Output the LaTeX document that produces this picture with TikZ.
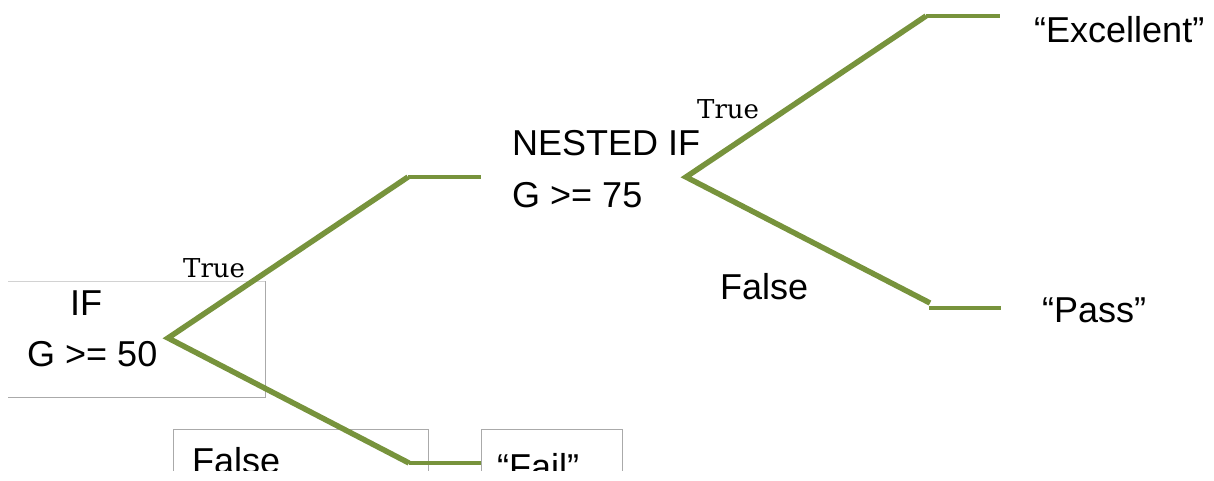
\documentclass[tikz,border=0pt]{standalone}
\usepackage{fontspec}
\setmainfont{Liberation Sans}
\newfontfamily\truefont{DejaVu Serif}
\definecolor{olive}{RGB}{119,147,60}
\definecolor{boxgray}{RGB}{170,170,170}
\definecolor{boxlight}{RGB}{210,210,210}
\begin{document}
\begin{tikzpicture}[x=1pt,y=-1pt,
  txt/.style={anchor=base west,inner sep=0pt,font=\fontsize{36}{43}\selectfont},
  lbl/.style={anchor=base west,inner sep=0pt,font=\truefont\fontsize{26}{31}\selectfont},
  diag/.style={draw=olive,line width=5.5pt},
  hor/.style={draw=olive,line width=3.5pt},
  frame/.style={draw=boxgray,line width=1pt}]
\useasboundingbox (0,0) rectangle (1214,480);
% box around first IF
\draw[draw=boxlight,line width=1pt] (8,281) -- (265,281);
\draw[frame] (265,281) -- (265,397) -- (8,397);
% text
\node[txt] (if1a) at (70,315) {IF};
\node[txt] (if1b) at (27,366) {G >= 50};
\node[txt] (if2a) at (512,155) {NESTED IF};
\node[txt] (if2b) at (512,207) {G >= 75};
\node[txt] (exc) at (1034,42) {“Excellent”};
\node[txt] (pass) at (1042,322) {“Pass”};
\node[txt] (f2) at (720,299) {False};
\node[lbl] (t1) at (183,277) {True};
\node[lbl] (t2) at (697,118) {True};
% clipped bottom boxes
\begin{scope}
\clip (0,0) rectangle (1214,470);
\draw[frame] (173,472) -- (173,429) -- (428,429) -- (428,472);
\draw[frame] (481,472) -- (481,429) -- (622,429) -- (622,472);
\node[txt] (f1) at (192,473) {False};
\node[txt] (fail) at (497,479) {“Fail”};
\end{scope}
% connectors
\coordinate (j1) at (168,338);
\coordinate (j1u) at (408,177);
\coordinate (j1ue) at (481,177);
\coordinate (j1d) at (409,463);
\coordinate (j1de) at (481,463);
\coordinate (j2) at (686,177);
\coordinate (j2u) at (926,16);
\coordinate (j2ue) at (1000,16);
\coordinate (j2d) at (930,303);
\coordinate (j2dp) at (929,308);
\coordinate (j2de) at (1001,308);
\draw[diag] (j1u) -- (j1) -- (j1d);
\draw[hor] (j1u) -- (j1ue);
\draw[hor] (j1d) -- (j1de);
\draw[diag] (j2u) -- (j2) -- (j2d);
\draw[hor] (j2u) -- (j2ue);
\draw[hor] (j2dp) -- (j2de);
\end{tikzpicture}
\end{document}
